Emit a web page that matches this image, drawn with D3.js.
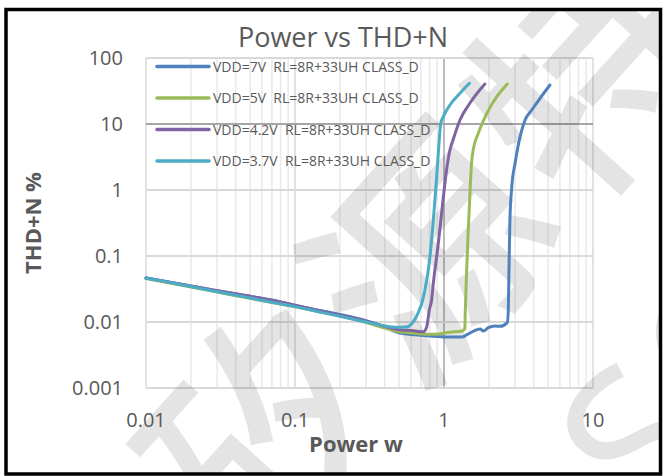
<!DOCTYPE html>
<html lang="en">
<head>
<meta charset="UTF-8">
<title>Power vs THD+N</title>
<script src="https://d3js.org/d3.v7.min.js"></script>
<style>
  body { margin: 0; background: #fff; }
  svg text { font-family: "Open Sans", sans-serif; fill: #595959; white-space: pre; }
</style>
</head>
<body>
<svg id="chart" width="663" height="476"></svg>
<script>
// axis ticks
const powerTicks = [0.01, 0.1, 1, 10];
const powerLabels = ["0.01", "0.1", "1", "10"];
const thdTicks = [0.001, 0.01, 0.1, 1, 10, 100];
const thdLabels = ["0.001", "0.01", "0.1", "1", "10", "100"];

const seriesNames = [
  "VDD=7V  RL=8R+33UH CLASS_D",
  "VDD=5V  RL=8R+33UH CLASS_D",
  "VDD=4.2V  RL=8R+33UH CLASS_D",
  "VDD=3.7V  RL=8R+33UH CLASS_D"
];
const seriesColors = ["#4f81bd", "#9bbb59", "#8064a2", "#4bacc6"];

// [power W, THD+N %]
const vdd7 = [[0.01,0.0464],[0.02,0.0350],[0.03,0.0298],[0.05,0.0245],[0.07,0.0215],[0.1,0.0178],
  [0.15,0.0148],[0.2,0.0130],[0.3,0.0105],[0.4,0.0085],[0.507,0.0068],[0.848,0.0061],[1.096,0.0059],
  [1.315,0.0059],[1.49,0.0068],[1.75,0.0078],[1.84,0.0073],[1.98,0.0082],[2.2,0.0087],[2.37,0.0086],
  [2.66,0.0098],[2.70,0.0152],[2.73,0.0614],[2.77,0.351],[2.85,1.12],[3.0,2.54],[3.24,6.43],
  [3.50,11.5],[3.88,16.3],[4.41,24.5],[5.14,39.0]];
const vdd5 = [[0.01,0.0455],[0.02,0.0340],[0.03,0.0285],[0.05,0.0228],[0.07,0.0197],[0.1,0.0170],
  [0.15,0.0142],[0.2,0.0124],[0.3,0.0098],[0.4,0.0081],[0.507,0.0071],[0.62,0.0068],[0.848,0.0065],
  [1.096,0.0070],[1.33,0.0073],[1.38,0.0080],[1.39,0.0152],[1.42,0.0614],[1.455,0.248],[1.49,0.79],
  [1.53,2.54],[1.57,4.04],[1.70,7.23],[1.94,14.5],[2.26,25.9],[2.66,40.4]];
const vdd42 = [[0.01,0.0464],[0.02,0.0350],[0.03,0.0298],[0.05,0.0245],[0.07,0.0213],[0.1,0.0180],
  [0.15,0.0146],[0.2,0.0127],[0.3,0.0103],[0.4,0.0086],[0.507,0.0076],[0.62,0.0074],[0.726,0.0071],
  [0.766,0.0085],[0.797,0.0152],[0.826,0.0215],[0.848,0.0386],[0.916,0.156],[0.98,0.628],[1.04,2.01],
  [1.096,4.04],[1.15,5.73],[1.28,11.5],[1.49,20.6],[1.88,40.4]];
const vdd37 = [[0.01,0.0464],[0.02,0.0344],[0.03,0.0288],[0.05,0.0231],[0.07,0.0199],[0.1,0.0171],
  [0.15,0.0140],[0.2,0.0122],[0.3,0.0100],[0.4,0.0087],[0.48,0.0083],[0.56,0.0084],[0.62,0.0100],
  [0.67,0.0137],[0.71,0.0194],[0.745,0.0305],[0.805,0.0975],[0.848,0.351],[0.883,1.12],[0.916,3.6],
  [0.95,10.2],[0.989,12.9],[1.096,19.4],[1.28,29.2],[1.48,41.4]];
const seriesData = [vdd7, vdd5, vdd42, vdd37];

const svg = d3.select("#chart");
const x = d3.scaleLog().domain([0.01, 10]).range([146, 593]);
const y = d3.scaleLog().domain([0.001, 100]).range([388, 58]);

svg.append("rect").attr("width", 663).attr("height", 476).attr("fill", "#fff");

// vertical grid (minor + decades)
svg.append("g").selectAll("line")
  .data(x.ticks())
  .join("line")
  .attr("x1", d => x(d)).attr("x2", d => x(d))
  .attr("y1", y(100)).attr("y2", y(0.001))
  .attr("stroke", d => d === 1 ? "#a6a6a6" : (powerTicks.includes(d) ? "#d9d9d9" : "#e9e9e9"))
  .attr("stroke-width", 1.5);

// horizontal grid
svg.append("g").selectAll("line")
  .data(thdTicks)
  .join("line")
  .attr("x1", x(0.01)).attr("x2", x(10))
  .attr("y1", d => y(d)).attr("y2", d => y(d))
  .attr("stroke", d => d === 10 ? "#a6a6a6" : "#d9d9d9")
  .attr("stroke-width", 2);

// watermark, clipped to the frame
svg.append("clipPath").attr("id", "frameClip")
  .append("rect").attr("x", 6).attr("y", 9).attr("width", 655).attr("height", 465);
const wm = svg.append("g").attr("clip-path", "url(#frameClip)").attr("opacity", 0.1);
wm.append("text")
  .attr("transform", "translate(420,240) rotate(-48)")
  .attr("text-anchor", "middle")
  .attr("dominant-baseline", "central")
  .attr("font-size", 230)
  .attr("font-weight", 500)
  .attr("letter-spacing", 10)
  .style("font-family", "'Noto Sans CJK SC'")
  .style("fill", "#000")
  .text("矽源特");
wm.append("text")
  .attr("transform", "translate(595,480) rotate(-48)")
  .attr("dominant-baseline", "central")
  .attr("font-size", 210)
  .attr("font-weight", 500)
  .style("fill", "#000")
  .text("SCT");

// series
const line = d3.line().x(d => x(d[0])).y(d => y(d[1])).curve(d3.curveMonotoneX);
svg.append("g").selectAll("path")
  .data(seriesData)
  .join("path")
  .attr("d", line)
  .attr("fill", "none")
  .attr("stroke", (d, i) => seriesColors[i])
  .attr("stroke-width", 3)
  .attr("stroke-linecap", "round")
  .attr("stroke-linejoin", "round");

// legend
const legend = svg.append("g").selectAll("g")
  .data(seriesNames)
  .join("g")
  .attr("transform", (d, i) => `translate(0,${66.5 + i * 31.5})`);
legend.append("line")
  .attr("x1", 157).attr("x2", 209)
  .attr("stroke", (d, i) => seriesColors[i])
  .attr("stroke-width", 3.5)
  .attr("stroke-linecap", "round");
legend.append("text")
  .attr("x", 213).attr("y", 5)
  .attr("font-size", 14)
  .text(d => d);

// tick labels
svg.append("g").selectAll("text")
  .data(thdTicks)
  .join("text")
  .attr("x", 123).attr("y", d => y(d) + 7)
  .attr("text-anchor", "end")
  .attr("font-size", 20)
  .text((d, i) => thdLabels[i]);
svg.append("g").selectAll("text")
  .data(powerTicks)
  .join("text")
  .attr("x", d => x(d)).attr("y", 427)
  .attr("text-anchor", "middle")
  .attr("font-size", 20)
  .text((d, i) => powerLabels[i]);

// titles
svg.append("text")
  .attr("x", 343).attr("y", 47)
  .attr("text-anchor", "middle")
  .attr("font-size", 27)
  .text("Power vs THD+N");
svg.append("text")
  .attr("x", 356).attr("y", 452)
  .attr("text-anchor", "middle")
  .attr("font-size", 22)
  .attr("font-weight", 700)
  .text("Power w");
svg.append("text")
  .attr("transform", "translate(41,223) rotate(-90)")
  .attr("text-anchor", "middle")
  .attr("font-size", 22)
  .attr("font-weight", 700)
  .text("THD+N %");

// outer frame
svg.append("rect")
  .attr("x", 6).attr("y", 9.5)
  .attr("width", 654.5).attr("height", 464.5)
  .attr("fill", "none")
  .attr("stroke", "#000")
  .attr("stroke-width", 3.5);
</script>
</body>
</html>
